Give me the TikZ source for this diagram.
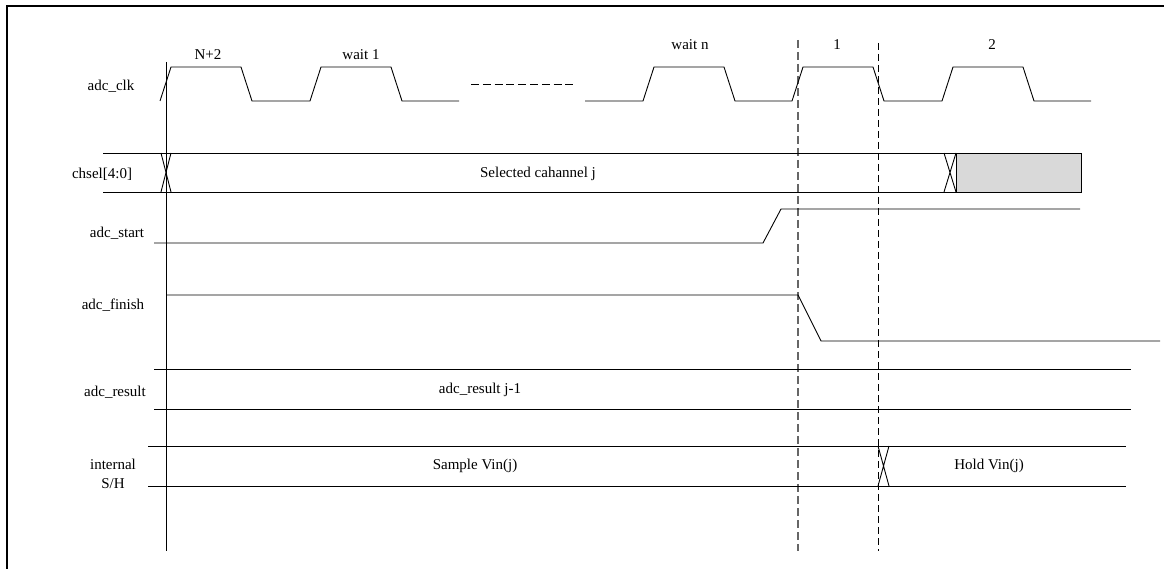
\documentclass[tikz,border=0pt]{standalone}
\usepackage{fontspec}
\setmainfont{Liberation Serif}
\usetikzlibrary{positioning}
\tikzset{
  wave/.style={line width=0.9pt},
  lbl/.style={font=\fontsize{15}{19}\selectfont,inner sep=0pt},
  cursorA/.style={gray!80!black,line width=1.5pt,dash pattern=on 8pt off 4pt},
  cursorB/.style={line width=1pt,dash pattern=on 7pt off 4pt},
}
\begin{document}
\begin{tikzpicture}[x=1pt,y=-1pt]
\useasboundingbox (0,0) rectangle (1164,569);
% frame
\draw[line width=2pt] (7,569) -- (7,6) -- (1164,6);
% time axis and cursors
\draw[wave] (166,62) -- (166,551);
\draw[cursorA] (798,40) -- (798,551);
\draw[cursorB] (878,43) -- (878,551);
% adc_clk
\node[lbl] (clk) at (111,86) {adc\_clk};
\draw[wave] (160,101) \foreach \r in {160,310} {-- (\r,101) -- ++(11,-34) -- ++(70,0) -- ++(11,34)} -- (459,101);
\draw[wave,dash pattern=on 8pt off 3.8pt] (471,84) -- (574,84);
\draw[wave] (585,101) \foreach \r in {643,792,942} {-- (\r,101) -- ++(11,-34) -- ++(70,0) -- ++(11,34)} -- (1091,101);
\node[lbl] (c1) at (208,55) {N+2};
\node[lbl] (c2) at (361,55) {wait 1};
\node[lbl] (c3) at (690,45) {wait n};
\node[lbl] (c4) at (837,45) {1};
\node[lbl] (c5) at (992,45) {2};
% chsel
\node[lbl] (chsel) at (102,174) {chsel[4:0]};
\draw[wave] (103,153) -- (1081,153) (103,192) -- (1081,192);
\draw[wave] (161,153) -- (171,192) (161,192) -- (171,153);
\draw[wave] (944,153) -- (956,192) (944,192) -- (956,153);
\filldraw[wave,fill=gray!30] (956,153) rectangle (1081,192);
\node[lbl] (chj) at (538,174) {Selected cahannel j};
% adc_start
\node[lbl] (start) at (117,233) {adc\_start};
\draw[wave] (154,243) -- (763,243) -- (781,209) -- (1080,209);
% adc_finish
\node[lbl] (finish) at (113,305) {adc\_finish};
\draw[wave] (166,295) -- (798,295) -- (821,341) -- (1160,341);
% adc_result
\node[lbl] (result) at (115,392) {adc\_result};
\draw[wave] (154,369) -- (1131,369) (154,409) -- (1131,409);
\node[lbl] (resj) at (480,390) {adc\_result j-1};
% internal S/H
\node[lbl,align=center] (sh) at (113,474) {internal\\S/H};
\draw[wave] (148,446) -- (1126,446) (148,486) -- (1126,486);
\draw[wave] (878,446) -- (889,486) (878,486) -- (889,446);
\node[lbl] (samp) at (475,466) {Sample Vin(j)};
\node[lbl] (hold) at (989,466) {Hold Vin(j)};
\end{tikzpicture}
\end{document}
